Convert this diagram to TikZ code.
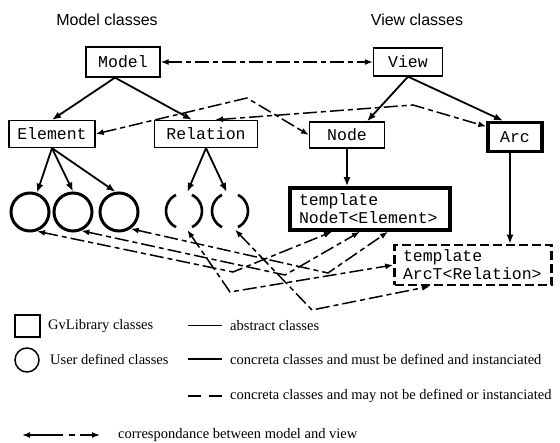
\documentclass[tikz,border=0pt]{standalone}
\usepackage{fontspec}
\setmainfont{Liberation Serif}
\setsansfont{Liberation Sans}
\setmonofont{Liberation Mono}
\usetikzlibrary{
    arrows.meta,
    positioning
}

\begin{document}
\begin{tikzpicture}[x=1pt, y=-1pt,
    cls/.style={draw, line width=1.3pt, inner sep=0pt, font=\ttfamily\fontsize{16.5}{18}\selectfont},
    clsthick/.style={cls, line width=3.5pt},
    clsdash/.style={cls, line width=2.6pt, dash pattern=on 9pt off 4pt},
    usr/.style={draw, circle, line width=3pt, minimum size=38pt, inner sep=0pt},
    usrdash/.style={usr, minimum size=36pt, line width=2.6pt, dash pattern=on 40pt off 16.5pt, dash phase=20pt},
    inh/.style={-{Latex[length=9pt,width=7pt]}, line width=1.8pt},
    corr/.style={{Latex[length=8pt,width=6pt]}-{Latex[length=8pt,width=6pt]}, line width=1.5pt, dash pattern=on 14pt off 4pt on 5pt off 4pt},
    head/.style={font=\sffamily\fontsize{16}{18}\selectfont},
    lgd/.style={anchor=west, inner sep=0pt, font=\fontsize{14.5}{16}\selectfont}
]
    \useasboundingbox (0,0) rectangle (560,443);

    % headings
    \node[head] (mhead) at (107,20) {Model classes};
    \node[head] (vhead) at (417,20) {View classes};

    % model classes
    \node[cls, minimum width=74pt, minimum height=30pt] (model) at (123,62) {Model};
    \node[cls, minimum width=86pt, minimum height=27pt] (element) at (52,134) {Element};
    \node[cls, minimum width=103pt, minimum height=27pt] (relation) at (206,134) {Relation};
    \node[usr] (e1) at (30,212) {};
    \node[usr] (e2) at (73,212) {};
    \node[usr] (e3) at (119,212) {};
    \node[usrdash] (r1) at (184,211) {};
    \node[usrdash] (r2) at (230,211) {};

    % view classes
    \node[cls, minimum width=69pt, minimum height=28pt] (view) at (408,62) {View};
    \node[cls, minimum width=75pt, minimum height=26pt] (vnode) at (347,135) {Node};
    \node[clsthick, minimum width=54pt, minimum height=29pt] (arc) at (515,137) {Arc};
    \node[clsthick, minimum width=160pt, minimum height=42pt, text width=142pt, align=left] (nodet) at (370,209) {template\\NodeT<Element>};
    \node[clsdash, minimum width=157pt, minimum height=40pt, text width=140pt, align=left] (arct) at (473,265) {template\\ArcT<Relation>};

    % inheritance
    \draw[inh] ([xshift=-8pt]model.south) -- (element.north);
    \draw[inh] ([xshift=-8pt]model.south) -- ([xshift=-14pt]relation.north);
    \draw[inh] (element.south) -- (e1.70);
    \draw[inh] (element.south) -- (e2.90);
    \draw[inh] (element.south) -- (e3.100);
    \draw[inh] (relation.south) -- (r1.80);
    \draw[inh] (relation.south) -- (r2.100);
    \draw[inh] (view.south) -- ([xshift=20pt]vnode.north);
    \draw[inh] (view.south) -- ([xshift=-12pt]arc.north);
    \draw[inh] (vnode.south) -- (vnode.south |- nodet.north);
    \draw[inh] ([xshift=-5pt]arc.south) -- ([xshift=-5pt]arc.south |- arct.north);

    % correspondance model <-> view
    \draw[corr] (model.east) -- (view.west);
    \draw[corr] (element.east) -- (247,98) -- (vnode.west);
    \draw[corr] ([xshift=9pt]relation.north) -- (413,105) -- (arc.160);
    \draw[corr] (e1.-70) -- (233,272) -- ([xshift=-38pt]nodet.south);
    \draw[corr] (e2.-66) -- (285,275) -- ([xshift=-10pt]nodet.south);
    \draw[corr] (e3.-55) -- (328,273) -- ([xshift=18pt]nodet.south);
    \draw[corr] (r1.-80) -- (230,292) -- (arct.west);
    \draw[corr] (r2.-75) -- (312,310) -- ([xshift=-43pt]arct.south);

    % legend
    \node[draw, line width=1.2pt, minimum width=25pt, minimum height=22pt] (sqkey) at (27.5,326) {};
    \node[lgd] (sqtext) at (48,326) {GvLibrary classes};
    \draw[line width=1pt] (188,326) -- (222,326);
    \node[lgd] (abstext) at (230,326) {abstract classes};
    \node[draw, circle, line width=1.5pt, minimum size=24pt] (circkey) at (27,360) {};
    \node[lgd] (usrtext) at (50,359) {User defined classes};
    \draw[line width=2pt] (188,359) -- (222,359);
    \node[lgd] (musttext) at (230,359) {concreta classes and must be defined and instanciated};
    \draw[line width=2pt, dash pattern=on 13pt off 8pt] (188,396) -- (222,396);
    \node[lgd] (maytext) at (230,396) {concreta classes and may not be defined or instanciated};
    \draw[corr, dash pattern=on 34pt off 6pt on 6pt off 5pt on 40pt] (22,435) -- (100,435);
    \node[lgd] (corrtext) at (118,435) {correspondance between model and view};
\end{tikzpicture}
\end{document}
